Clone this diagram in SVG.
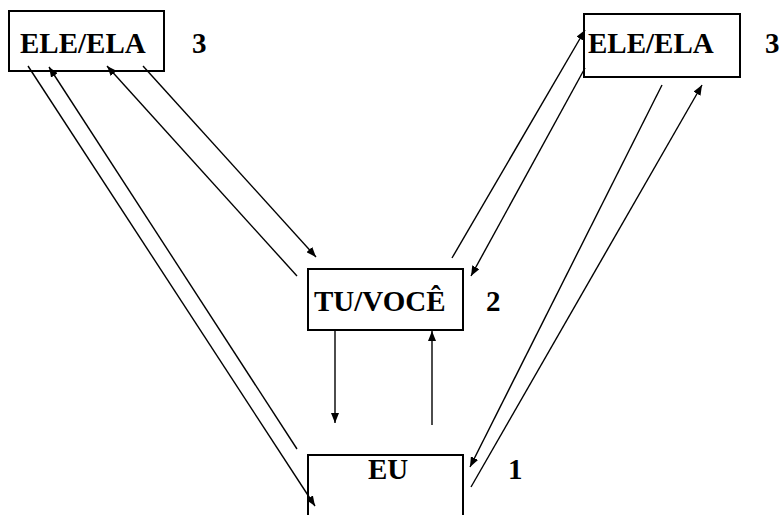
<svg xmlns="http://www.w3.org/2000/svg" width="782" height="515" viewBox="0 0 782 515">
  <style>
    .box { fill: #fff; stroke: #000; stroke-width: 2; }
    .lbl { font-family: 'Liberation Serif', 'Times New Roman', 'DejaVu Serif', serif; font-weight: 700; font-size: 29px; fill: #000; }
    .edge { stroke: #000; stroke-width: 1.4; fill: none; }
  </style>
  <defs>
    <marker id="arrow" viewBox="0 0 10 8" refX="10" refY="4" markerWidth="10" markerHeight="8" markerUnits="userSpaceOnUse" orient="auto">
      <path d="M0,0 L10,4 L0,8 Z" fill="#000"/>
    </marker>
  </defs>

  <g id="node-ele-ela-left">
    <rect class="box" x="9" y="11" width="155" height="60"/>
    <text class="lbl" x="20" y="53">ELE/ELA</text>
    <text class="lbl" x="192" y="53">3</text>
  </g>

  <g id="node-ele-ela-right">
    <rect class="box" x="584" y="14" width="156" height="63"/>
    <text class="lbl" x="588" y="53">ELE/ELA</text>
    <text class="lbl" x="765" y="53">3</text>
  </g>

  <g id="node-tu-voce">
    <rect class="box" x="308" y="269" width="155" height="61"/>
    <text class="lbl" x="314" y="311">TU/VOCÊ</text>
    <text class="lbl" x="486" y="311">2</text>
  </g>

  <g id="node-eu">
    <path class="box" d="M308,520 L308,455 L463,455 L463,520"/>
    <text class="lbl" x="368" y="479">EU</text>
    <text class="lbl" x="508" y="479">1</text>
  </g>

  <g id="connectors">
    <!-- left ELE/ELA <-> EU -->
    <line class="edge" x1="28" y1="66" x2="315" y2="506" marker-end="url(#arrow)"/>
    <line class="edge" x1="297" y1="449" x2="49" y2="67" marker-end="url(#arrow)"/>
    <!-- left ELE/ELA <-> TU/VOCÊ -->
    <line class="edge" x1="297" y1="276" x2="107" y2="66" marker-end="url(#arrow)"/>
    <line class="edge" x1="143" y1="66" x2="316" y2="257" marker-end="url(#arrow)"/>
    <!-- TU/VOCÊ <-> right ELE/ELA -->
    <line class="edge" x1="452" y1="258" x2="585" y2="30" marker-end="url(#arrow)"/>
    <line class="edge" x1="585" y1="68" x2="471" y2="276" marker-end="url(#arrow)"/>
    <!-- right ELE/ELA <-> EU -->
    <line class="edge" x1="662" y1="85" x2="470" y2="467" marker-end="url(#arrow)"/>
    <line class="edge" x1="471" y1="487" x2="702" y2="85" marker-end="url(#arrow)"/>
    <!-- TU/VOCÊ <-> EU -->
    <line class="edge" x1="335" y1="330" x2="335" y2="423" marker-end="url(#arrow)"/>
    <line class="edge" x1="432" y1="425" x2="432" y2="331" marker-end="url(#arrow)"/>
  </g>
</svg>
